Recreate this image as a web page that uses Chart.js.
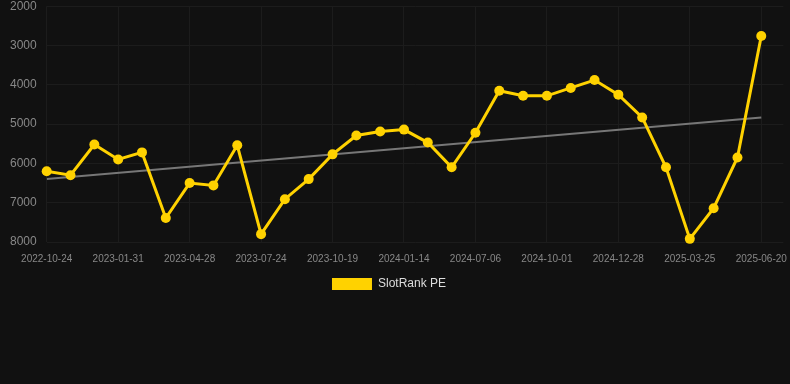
<!DOCTYPE html>
<html>
<head>
<meta charset="utf-8">
<script src="https://cdn.jsdelivr.net/npm/chart.js@4"></script>
<style>
  html, body { margin: 0; padding: 0; background: #111111; }
  .chart-wrap { position: relative; width: 790px; height: 300px; }
</style>
</head>
<body>
<div class="chart-wrap"><canvas id="pe-chart"></canvas></div>
<script>
  // tick labels, one every 3rd point
  const tickLabels = [
    "2022-10-24", "2023-01-31", "2023-04-28", "2023-07-24", "2023-10-19",
    "2024-01-14", "2024-07-06", "2024-10-01", "2024-12-28", "2025-03-25", "2025-06-20",
  ];

  const peValues = [
    6200, 6300, 5520, 5900, 5720, 7390, 6500, 6560, 5540, 7800,
    6910, 6400, 5770, 5290, 5190, 5140, 5470, 6100, 5220, 4150,
    4280, 4280, 4080, 3880, 4250, 4830, 6100, 7920, 7140, 5850, 2760,
  ];

  // trend line end points
  const trendStart = 6400;
  const trendEnd = 4830;

  const GOLD = "#ffd200";

  const lineData = peValues.map((v, i) => ({ x: i, y: v }));
  const trendData = [
    { x: 0, y: trendStart },
    { x: peValues.length - 1, y: trendEnd },
  ];

  Chart.defaults.font.family = "'Liberation Sans', Arial, sans-serif";

  new Chart(document.getElementById("pe-chart"), {
    type: "line",
    data: {
      datasets: [
        {
          label: "SlotRank PE",
          data: lineData,
          borderColor: GOLD,
          backgroundColor: GOLD,
          borderWidth: 3,
          pointRadius: 5,
          pointHoverRadius: 5,
          pointBackgroundColor: GOLD,
          pointBorderWidth: 0,
          tension: 0,
          clip: false,
          order: 1,
        },
        {
          label: "trend",
          data: trendData,
          borderColor: "#777777",
          borderWidth: 2,
          pointRadius: 0,
          tension: 0,
          order: 2,
        },
      ],
    },
    options: {
      responsive: true,
      maintainAspectRatio: false,
      animation: false,
      layout: { padding: { left: 8 } },
      plugins: {
        legend: {
          position: "bottom",
          labels: {
            color: "#dddddd",
            font: { size: 12 },
            boxWidth: 40,
            filter: (item) => item.text.trim() !== "trend",
            // trailing spaces nudge the centred item left like the original
            generateLabels: (chart) =>
              Chart.defaults.plugins.legend.labels
                .generateLabels(chart)
                .map((item) => ({ ...item, lineWidth: 0, text: item.text + "      " })),
          },
        },
        tooltip: { enabled: false },
      },
      scales: {
        x: {
          type: "linear",
          min: 0,
          max: 30.93,
          grid: { color: "#1c1c1c", tickColor: "transparent" },
          border: { display: false },
          ticks: {
            stepSize: 3,
            includeBounds: false,
            autoSkip: false,
            maxRotation: 0,
            color: "#888888",
            font: { size: 10 },
            callback: (v) => tickLabels[v / 3] ?? "",
          },
        },
        y: {
          reverse: true,
          min: 2000,
          max: 8000,
          grid: { color: "#1c1c1c", tickColor: "transparent" },
          border: { display: false },
          ticks: {
            stepSize: 1000,
            padding: 2,
            color: "#888888",
            font: { size: 12, lineHeight: 0.7 },
            callback: (v) => String(v),
          },
        },
      },
    },
  });
</script>
</body>
</html>
